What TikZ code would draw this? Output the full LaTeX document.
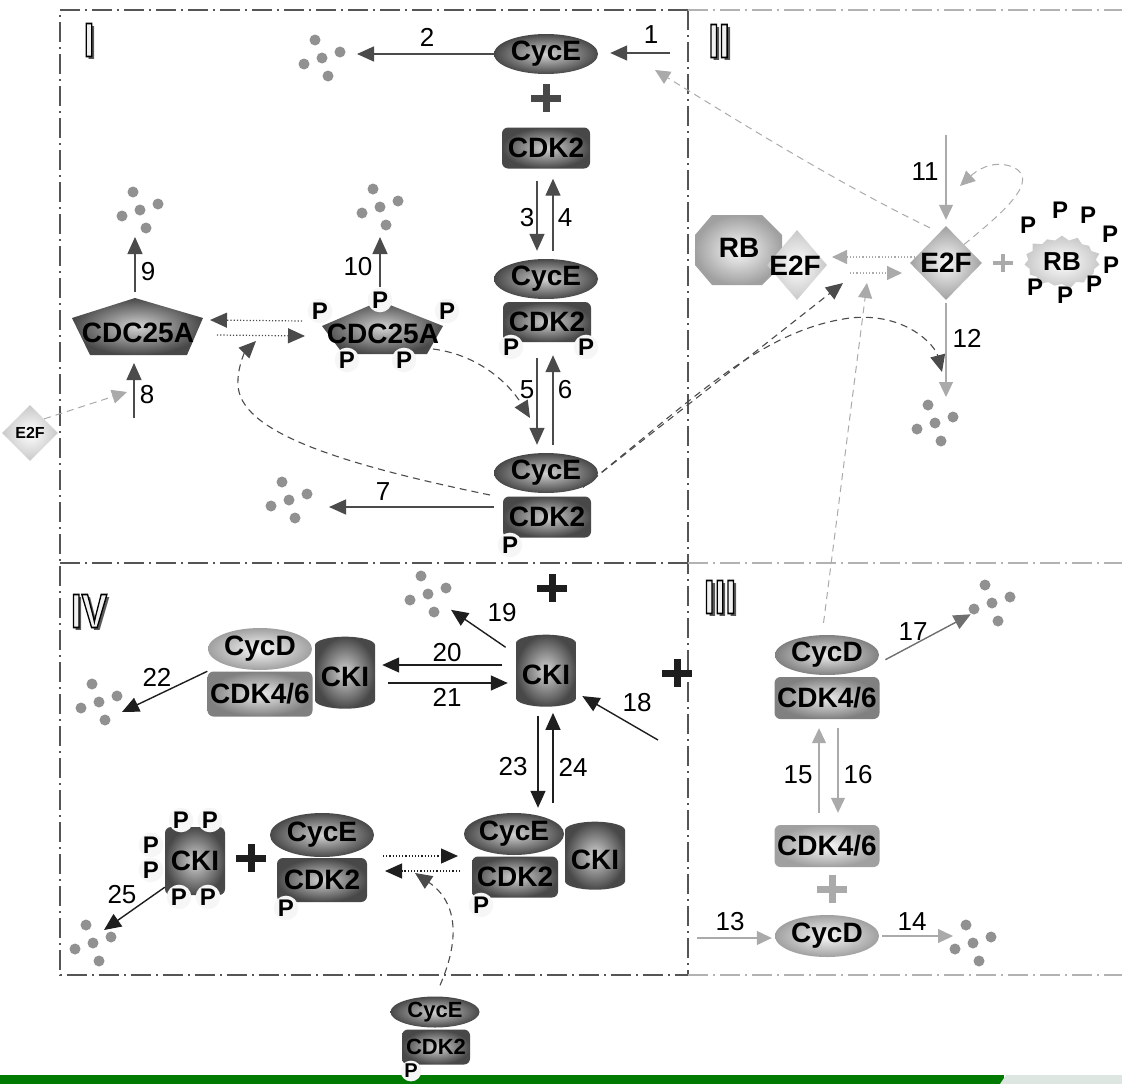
\documentclass[tikz,border=0pt]{standalone}
\usepackage{fontspec}
\setmainfont{Liberation Sans}
\usetikzlibrary{arrows.meta,calc,shapes.geometric,shapes.symbols}
\definecolor{DarkClr}{RGB}{72,72,72}
\definecolor{MidClr}{RGB}{128,128,128}
\definecolor{PaleClr}{RGB}{160,160,160}
\definecolor{FadeClr}{RGB}{200,200,200}
\definecolor{DotClr}{RGB}{145,145,145}
\definecolor{ArrClr}{RGB}{75,75,75}
\definecolor{InkClr}{RGB}{30,30,30}
\definecolor{FaintClr}{RGB}{170,170,170}
\definecolor{FrameClr}{RGB}{85,85,85}
\definecolor{BarClr}{RGB}{0,122,0}
\definecolor{BarEndClr}{RGB}{222,230,225}

\tikzset{
  mol/.style={inner sep=0pt, text=black, font=\fontsize{28}{28}\selectfont\bfseries},
  darkfill/.style={outer color=DarkClr, inner color=gray!35},
  midfill/.style={outer color=MidClr, inner color=gray!15},
  palefill/.style={outer color=PaleClr, inner color=gray!5},
  fadefill/.style={outer color=FadeClr, inner color=white},
  cyc/.style={mol, ellipse, minimum width=104pt, minimum height=40pt},
  cdk/.style={mol, rectangle, rounded corners=6pt, minimum width=88pt, minimum height=41pt},
  cki/.style={mol, cylinder, shape border rotate=90, aspect=0.35, minimum width=60pt, minimum height=72pt},
  pho/.style={circle, inner sep=0.6pt, fill=gray!7, font=\fontsize{24}{24}\selectfont\bfseries},
  num/.style={inner sep=0pt, font=\fontsize{26}{26}\selectfont},
  rom/.style={inner sep=0pt, font=\fontsize{48}{48}\selectfont\bfseries},
  act/.style={draw=ArrClr, line width=1.4pt, -{Triangle[length=17pt,width=15pt]}},
  blk/.style={draw=InkClr, line width=1.4pt, -{Triangle[length=17pt,width=15pt]}},
  faint/.style={draw=FaintClr, line width=1.2pt, -{Triangle[length=15pt,width=14pt]}},
  dashdark/.style={act, line width=1.1pt, dash pattern=on 7pt off 5pt},
  dashfaint/.style={faint, line width=1pt, dash pattern=on 7pt off 5pt},
  dotdark/.style={act, line width=1.2pt, dotted},
  dotfaint/.style={faint, dotted},
  frame/.style={draw=FrameClr, line width=1.3pt, dash pattern=on 20pt off 5pt on 2pt off 5pt},
  degr/.pic={
    \coordinate (-c) at (0,0);
    \foreach \dx/\dy in {-7/-18,0/0,18/-6,-18/6,6/18}
      \fill[DotClr] (\dx,\dy) circle (5.5pt);
  },
  plus/.pic={
    \draw[line width=7pt] (-15,0) -- (15,0) (0,-14) -- (0,14);
  },
  plussm/.pic={
    \draw[line width=4pt] (-10,0) -- (10,0) (0,-9) -- (0,9);
  }
}

% outlined quadrant numeral with shadow
\newcommand{\romlab}[3]{%
  \node[rom, text=gray!70!black] at ($#2+(3,3)$) {\scalebox{.8}[1]{#3}};
  \node[rom, text=gray!12] (#1) at #2 {\special{pdf:literal direct 0 G 2 Tr 1.6 w}\scalebox{.8}[1]{#3}};}

\begin{document}
\begin{tikzpicture}[x=1pt,y=-1pt]
\useasboundingbox (0,0) rectangle (1122,1084);

% frame
\draw[frame] (688,10) -- (60,10) -- (60,975) -- (688,975);
\draw[frame] (688,10) -- (688,975);
\draw[frame] (60,563) -- (688,563);
\draw[frame, draw=FrameClr!45] (688,10) -- (1122,10) (688,563) -- (1122,563) (688,975) -- (1122,975);

\fill[BarClr] (0,1075) rectangle (1004,1084);
\fill[BarEndClr] (1000,1084) -- (1006,1075) -- (1122,1075) -- (1122,1084) -- cycle;

\romlab{qI}{(89,40)}{I}
\romlab{qII}{(719,41)}{II}
\romlab{qIII}{(720,597)}{III}
\romlab{qIV}{(89,611)}{IV}

% quadrant I
\node[cyc, darkfill] (cycEa) at (546,54) {CycE};
\pic[DarkClr] at (546,98) {plus};
\node[cdk, darkfill] (cdkA) at (546,148) {CDK2};
\node[cyc, darkfill] (cycEb) at (546,279) {CycE};
\node[cdk, darkfill, minimum height=40pt] (cdkB) at (547,322) {CDK2};
\node[pho] (pB1) at (511,347) {P};
\node[pho] (pB2) at (586,347) {P};
\node[cyc, darkfill] (cycEc) at (546,473) {CycE};
\node[cdk, darkfill] (cdkC) at (547,517) {CDK2};
\node[pho] (pC) at (510,545) {P};

\coordinate (cdcAtop) at (135,298);
\coordinate (cdcAbot) at (134,355);
\shade[darkfill] (cdcAtop) -- (203,318) -- (187,355) -- (90,355) -- (72,318) -- cycle;
\node[mol] (cdcA) at (138,333) {CDC25A};
\shade[darkfill] (380,301) -- (443,326) -- (427,354) -- (343,354) -- (322,326) -- cycle;
\node[mol] (cdcP) at (383,334) {CDC25A};
\node[pho] (pP1) at (320,311) {P};
\node[pho] (pTop) at (380,300) {P};
\node[pho] (pP3) at (447,311) {P};
\node[pho] (pP4) at (347,360) {P};
\node[pho] (pP5) at (404,360) {P};

\node[mol, diamond, fadefill, minimum width=56pt, minimum height=56pt,
  font=\fontsize{16}{16}\selectfont\bfseries] (e2fS) at (30,433) {E2F};

\pic (d2) at (322,58) {degr};
\pic (d7) at (289,500) {degr};
\pic (d9) at (140,210) {degr};
\pic (d10) at (380,207) {degr};
\pic (d12) at (935,423) {degr};
\pic (d14) at (973,943) {degr};
\pic (d17) at (992,603) {degr};
\pic (d19) at (428,594) {degr};
\pic (d22) at (99,702) {degr};
\pic (d25) at (93,943) {degr};

% quadrant II
\shade[palefill] (712,215) -- (762,215) -- (782,235) -- (782,265) -- (762,285)
  -- (712,285) -- (695,265) -- (695,235) -- cycle;
\node[mol] (rbA) at (739,248) {RB};
\node[diamond, fadefill, minimum width=60pt, minimum height=70pt] (rbE) at (797,265) {};
\node[mol] (rbEt) at (795,266) {E2F};
\node[mol, diamond, palefill, minimum width=72pt, minimum height=74pt] (e2f) at (946,263) {E2F};
\pic[FaintClr] at (1003,263) {plussm};
\node[mol, starburst, starburst points=15, starburst point height=6pt, minimum width=80pt,
  minimum height=56pt, fadefill, font=\fontsize{26}{26}\selectfont\bfseries] (rbP) at (1062,262) {RB};
\foreach \px/\py [count=\k] in {1028/225,1060/210,1088/215,1110/234,1111/265,1035/287,1065/295,1094/284}
  \node[pho, fill=none] (rbP\k) at (\px,\py) {P};

% quadrant III
\node[cyc, midfill] (cycDb) at (827,655) {CycD};
\node[cdk, midfill, minimum width=105pt, minimum height=42pt] (cdkDb) at (827,698) {CDK4/6};
\node[cdk, palefill, minimum width=105pt, minimum height=42pt] (cdkDc) at (827,846) {CDK4/6};
\pic[FaintClr] at (832,889) {plus};
\node[cyc, palefill, minimum height=42pt] (cycDc) at (827,936) {CycD};

% quadrant IV
\pic[InkClr] at (552,588) {plus};
\pic[InkClr] at (677,673) {plus};
\node[cki, darkfill] (ckiA) at (546,675) {CKI};
\node[cyc, palefill, minimum height=42pt] (cycDa) at (260,649) {CycD};
\node[cdk, midfill, minimum width=105pt, minimum height=45pt] (cdkDa) at (260,694) {CDK4/6};
\node[cki, darkfill] (ckiB) at (345,677) {CKI};
\node[cki, darkfill, minimum height=68pt] (ckiC) at (595,860) {CKI};
\node[cyc, darkfill, minimum width=100pt, minimum height=42pt] (cycEd) at (514,834) {CycE};
\node[cdk, darkfill, minimum width=86pt] (cdkD) at (515,877) {CDK2};
\node[pho] (pD) at (481,905) {P};

\node[mol, rectangle, rounded corners=6pt, minimum width=60pt, minimum height=68pt, darkfill] (ckiP) at (195,861) {CKI};
\foreach \px/\py [count=\k] in {181/820,210/820,151/845,151/870,179/897,208/897}
  \node[pho] (ckiP\k) at (\px,\py) {P};
\pic[InkClr] at (251,858) {plus};
\node[cyc, darkfill, minimum height=44pt] (cycEe) at (322,835) {CycE};
\node[cdk, darkfill, minimum width=90pt, minimum height=44pt] (cdkE) at (322,880) {CDK2};
\node[pho] (pE) at (286,908) {P};

\node[cyc, darkfill, minimum width=89pt, minimum height=31pt, font=\fontsize{22}{22}\selectfont\bfseries] (cycEf) at (435,1012) {CycE};
\node[cdk, darkfill, minimum width=68pt, minimum height=35pt, font=\fontsize{22}{22}\selectfont\bfseries] (cdkF) at (436,1047) {CDK2};
\node[pho, font=\fontsize{20}{20}\selectfont\bfseries] (pF) at (411,1071) {P};

% numbers
\foreach \n/\x/\y in {1/651/35,2/427/37,3/527/218,4/565/218,5/527/390,6/565/390,7/383/492,
  8/147/395,9/148/272,10/358/267,11/925/172,12/967/338,13/730/922,14/912/922,15/798/775,
  16/858/775,17/913/632,18/637/703,19/502/613,20/447/653,21/447/697,22/157/677,23/513/767,
  24/573/767,25/122/895}
  \node[num] (n\n) at (\x,\y) {\n};

% connectors, quadrant I
\coordinate (a1) at (670,53);
\draw[act, shorten >=12pt] (a1) -- (cycEa.east |- a1);
\draw[act, shorten >=35pt] (cycEa.west) -- (cycEa.west -| d2-c);
\draw[act, shorten <=12pt, shorten >=8pt] ([xshift=-9pt]cdkA.south) -- ([xshift=-9pt]cycEb.north);
\draw[act, shorten <=8pt, shorten >=10pt] ([xshift=7pt]cycEb.north) -- ([xshift=7pt]cdkA.south);
\draw[act, shorten <=16pt, shorten >=8pt] ([xshift=-10pt]cdkB.south) -- ([xshift=-10pt]cdkB.south |- cycEc.north);
\draw[act, shorten <=8pt, shorten >=13pt] ([xshift=6pt]cdkB.south |- cycEc.north) -- ([xshift=6pt]cdkB.south);
\draw[act, shorten <=9pt, shorten >=40pt] ([yshift=10pt]cdkC.west) -- ([yshift=10pt]cdkC.west -| d7-c);
\draw[act, shorten <=6pt, shorten >=27pt] (cdcAtop) -- (cdcAtop |- d9-c);
\draw[act, shorten >=30pt] (pTop.north) -- (pTop.north |- d10-c);
\coordinate (a8) at (134,418);
\draw[act, shorten >=8pt] (a8) -- (cdcAbot);
\draw[dotdark] ([shift={(-81,-13)}]cdcP.center) -- ([shift={(72,-13)}]cdcA.center);
\draw[dotdark] ([shift={(79,2)}]cdcA.center) -- ([shift={(-78,2)}]cdcP.center);
\coordinate (onCdc) at (256,341);
\draw[dashdark] ([shift={(-56,22)}]cycEc.center) .. controls (330,462) and (240,430) .. (238,385)
  .. controls (237,368) and (245,352) .. (onCdc);
\coordinate (on5) at (530,418);
\draw[dashdark] ([shift={(50,15)}]cdcP.center) .. controls (480,355) and (510,385) .. (on5);
\coordinate (on8) at (127,392);
\draw[dashfaint] (e2fS.north east) -- (on8);

% connectors, quadrant II
\coordinate (convA) at (843,283);
\coordinate (convB) at (867,283);
\coordinate (on12) at (942,372);
\draw[dashdark] (cycEc.south east) -- (convA);
\draw[dashdark] (cycEc.south east) .. controls (690,402) and (760,330) .. (850,318)
  .. controls (905,312) and (935,345) .. (on12);
\coordinate (a11) at (946,135);
\draw[faint, shorten >=6pt] (a11) -- (e2f.north);
\draw[faint, shorten <=3pt, shorten >=26pt] (e2f.south) -- (e2f.south |- d12-c);
\coordinate (on11) at (960,186);
\draw[dashfaint] (e2f.north east) .. controls (1000,215) and (1045,178) .. (1010,166)
  .. controls (990,160) and (975,172) .. (on11);
\draw[dotfaint] ([shift={(-28,-6)}]e2f.center) -- ([shift={(35,-8)}]rbE.center);
\draw[dotfaint] ([shift={(53,8)}]rbE.center) -- ([shift={(-44,10)}]e2f.center);
\coordinate (on1) at (655,70);
\draw[dashfaint] ([shift={(-16,2)}]e2f.north) .. controls (840,185) and (720,110) .. (on1);
\draw[dashfaint, shorten <=12pt] ([xshift=-5pt]cycDb.north) -- (convB);

% connectors, quadrant III
\coordinate (a13) at (697,938);
\draw[faint, shorten >=3pt] (a13) -- (cycDc.west |- a13);
\draw[faint, shorten <=3pt, shorten >=20pt] (cycDc.east) -- (cycDc.east -| d14-c);
\draw[faint, shorten <=12pt, shorten >=9pt] ([xshift=-8pt]cdkDc.north) -- ([xshift=-8pt]cdkDb.south);
\draw[faint, shorten <=9pt, shorten >=12pt] ([xshift=11pt]cdkDb.south) -- ([xshift=11pt]cdkDc.north);
\draw[act, draw=ArrClr!80, shorten <=7pt, shorten >=24pt] ([yshift=-8pt]cycDb.east) -- (d17-c);

% connectors, quadrant IV
\coordinate (a18) at (658,740);
\draw[blk, shorten >=42pt] (a18) -- (ckiA.center);
\draw[blk, shorten <=49pt, shorten >=28pt] (ckiA.center) -- (d19-c);
\draw[blk, shorten <=14pt, shorten >=7pt] ([yshift=10pt]ckiA.west) -- ([yshift=10pt]ckiA.west -| ckiB.east);
\draw[blk, shorten <=13pt, shorten >=8pt] ([yshift=-6pt]ckiB.east) -- ([yshift=-6pt]ckiB.east -| ckiA.west);
\coordinate (a22) at (122,712);
\draw[blk] (cdkDa.north west) -- (a22);
\draw[blk, shorten <=9pt, shorten >=5pt] ([xshift=-8pt]ckiA.south) -- ([xshift=-8pt]ckiA.south |- cycEd.north);
\draw[blk, shorten <=10pt, shorten >=6pt] ([xshift=7pt]ckiA.south |- cycEd.north) -- ([xshift=7pt]ckiA.south);
\coordinate (a25) at (104,930);
\draw[blk] ([yshift=8pt]ckiP.south west) -- (a25);
\draw[dotdark, draw=InkClr] ([shift={(61,-24)}]cdkE.center) -- ([shift={(-57,-21)}]cdkD.center);
\draw[dotdark, draw=InkClr] ([shift={(-55,-6)}]cdkD.center) -- ([shift={(63,-9)}]cdkE.center);
\coordinate (onIV) at (415,873);
\draw[dashdark] ([shift={(5,-11)}]cycEf.north) .. controls (462,935) and (455,900) .. (onIV);

\end{tikzpicture}
\end{document}
